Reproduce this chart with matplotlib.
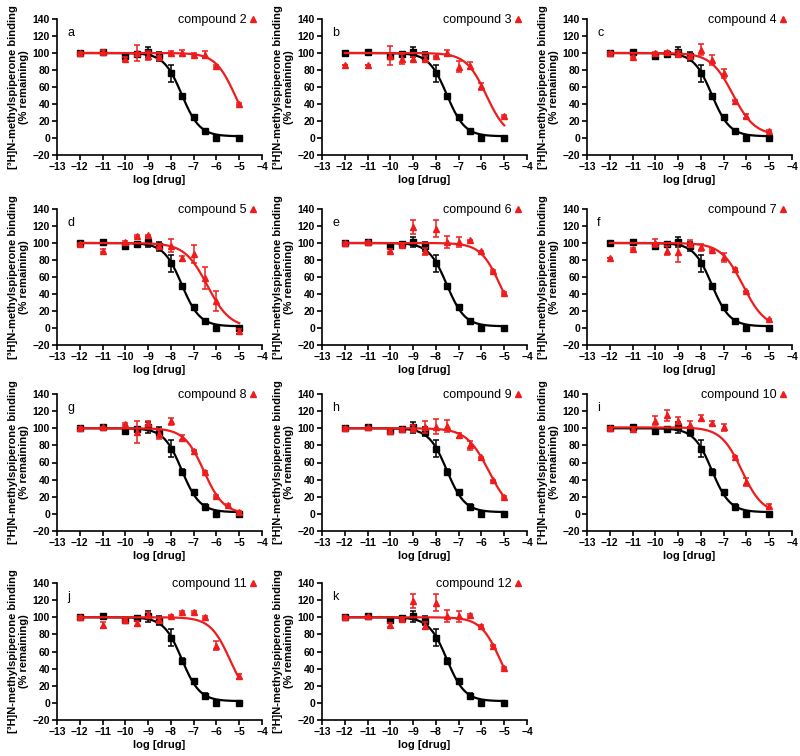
import numpy as np
import matplotlib
matplotlib.use('Agg')
import matplotlib.pyplot as plt

plt.rcParams['font.family'] = ['Liberation Sans', 'DejaVu Sans']

# ---------------- data ----------------
# reference compound (black squares), same in every panel
ref_x = [-12, -11, -10, -9.5, -9, -8.5, -8, -7.5, -7, -6.5, -6, -5]
ref_y = [100, 101, 97, 99, 101, 96, 76, 49, 25, 8, 0, 0]
ref_err = [1, 2, 2, 2, 6, 5, 10, 3, 2, 3, 1, 1]
ref_fit = [100, 2, -7.52, 1.1]          # top, bottom, logIC50, hill

letters = ['a', 'b', 'c', 'd', 'e', 'f', 'g', 'h', 'i', 'j', 'k']
names = ['compound 2', 'compound 3', 'compound 4', 'compound 5', 'compound 6',
         'compound 7', 'compound 8', 'compound 9', 'compound 10',
         'compound 11', 'compound 12']

x13 = [-12, -11, -10, -9.5, -9, -8.5, -8, -7.5, -7, -6.5, -6, -5]
x14 = [-12, -11, -10, -9.5, -9, -8.5, -8, -7.5, -7, -6.5, -6, -5.5, -5]

c2_y = [100, 101, 93, 100, 97, 95, 100, 100, 98, 98, 85, 40]
c2_e = [1, 2, 2, 9, 5, 2, 2, 4, 2, 4, 1, 1]
c3_y = [86, 86, 97, 93, 93, 93, 96, 100, 84, 85, 61, 26]
c3_e = [0, 0, 11, 6, 2, 3, 1, 3, 6, 4, 4, 1]
c4_y = [100, 95, 100, 101, 99, 97, 104, 92, 76, 44, 26, 8]
c4_e = [1, 1, 1, 1, 3, 2, 6, 6, 5, 1, 2, 1]
c5_y = [99, 91, 101, 108, 109, 97, 97, 82, 87, 59, 32, -4]
c5_e = [1, 2, 1, 1, 1, 2, 8, 3, 11, 13, 12, 3]
c6_y = [100, 101, 91, 98, 119, 90, 117, 101, 101, 103, 90, 67, 41]
c6_e = [1, 1, 2, 1, 8, 4, 10, 7, 6, 1, 1, 1, 1]
c7_y = [82, 93, 100, 91, 89, 99, 95, 92, 83, 70, 43, 10]
c7_e = [0, 1, 5, 5, 11, 4, 4, 1, 5, 1, 1, 1]
c8_y = [100, 101, 105, 96, 106, 93, 108, 89, 74, 49, 21, 10, 2]
c8_e = [2, 1, 1, 13, 2, 5, 4, 3, 1, 1, 1, 1, 1]
c9_y = [100, 101, 97, 99, 100, 101, 102, 103, 92, 80, 66, 39, 20]
c9_e = [1, 1, 1, 1, 4, 7, 9, 7, 3, 5, 1, 1, 1]
c10_y = [100, 99, 109, 115, 109, 104, 112, 106, 101, 67, 37, 9]
c10_e = [1, 3, 5, 6, 4, 4, 4, 2, 4, 1, 5, 3]
c11_y = [100, 91, 97, 93, 103, 97, 102, 106, 106, 100, 67, 31]
c11_e = [1, 3, 1, 3, 3, 2, 1, 1, 1, 1, 5, 3]
c12_y = [100, 101, 91, 98, 119, 90, 117, 101, 101, 103, 90, 67, 41]
c12_e = [1, 1, 2, 1, 8, 4, 10, 7, 6, 1, 1, 1, 1]

# fitted curves: top, bottom, logIC50, hill
c_fit = [
    [100, 0, -5.18, 1.0],
    [100, 0, -5.78, 0.97],
    [100, 3, -6.60, 0.9],
    [100, 0, -6.40, 0.87],
    [100, 0, -5.17, 1.0],
    [100, 0, -6.15, 0.9],
    [100, 0, -6.55, 1.0],
    [100, 0, -5.68, 0.89],
    [101, 0, -6.20, 0.95],
    [100, 0, -5.40, 1.0],
    [100, 0, -5.17, 1.0],
]

red_x = [x13, x13, x13, x13, x14, x13, x14, x14, x13, x13, x14]
red_y = [c2_y, c3_y, c4_y, c5_y, c6_y, c7_y, c8_y, c9_y, c10_y, c11_y, c12_y]
red_e = [c2_e, c3_e, c4_e, c5_e, c6_e, c7_e, c8_e, c9_e, c10_e, c11_e, c12_e]

RED = '#ee1c1c'


def curve(x, p):
    top, bot, c, h = p
    return bot + (top - bot) / (1 + 10 ** ((x - c) * h))


W, H = 800, 756
fig = plt.figure(figsize=(W / 100, H / 100), dpi=100)
lefts = [57, 322, 587]
tops = [19, 209, 394, 583]
bottoms = [155, 345, 531, 720]
aw = 205

xs = np.linspace(-12, -5, 300)

for i in range(11):
    r, c = divmod(i, 3)
    l = lefts[c]
    t = tops[r]
    b = bottoms[r]
    ax = fig.add_axes([l / W, 1 - b / H, aw / W, (b - t) / H])

    # reference compound
    ax.plot(xs, curve(xs, ref_fit), color='black', lw=1.6, zorder=2)
    ax.errorbar(ref_x, ref_y, yerr=ref_err, fmt='s', color='black', ms=5,
                elinewidth=1.1, capsize=2.5, capthick=1.1, zorder=3)

    # test compound
    ax.plot(xs, curve(xs, c_fit[i]), color=RED, lw=1.6, zorder=4)
    ax.errorbar(red_x[i], red_y[i], yerr=red_e[i], fmt='^', color=RED, ms=4.5,
                elinewidth=1.1, capsize=2.5, capthick=1.1, zorder=5,
                label=names[i])

    ax.set_xlim(-13, -4)
    ax.set_ylim(-20, 140)
    ax.set_xticks(range(-13, -3))
    ax.set_yticks(range(-20, 141, 20))
    for s in ['top', 'right']:
        ax.spines[s].set_visible(False)
    for s in ['left', 'bottom']:
        ax.spines[s].set_linewidth(1.2)
    ax.tick_params(direction='out', length=3.5, width=1.2, labelsize=7.5, pad=1.5)
    for lab in ax.get_xticklabels() + ax.get_yticklabels():
        lab.set_fontweight('bold')
    ax.set_xlabel('log [drug]', fontsize=8, fontweight='bold', labelpad=2)
    ax.set_ylabel('[³H]N-methylspiperone binding\n(% remaining)', fontsize=8,
                  fontweight='bold', labelpad=2.5, linespacing=1.1)
    ax.text(0.05, 0.9, letters[i], transform=ax.transAxes, fontsize=9,
            ha='left', va='center')
    h, lab = ax.get_legend_handles_labels()
    ax.legend([h[0][0]], lab, loc='upper right', bbox_to_anchor=(0.975, 1.035),
              frameon=False, markerfirst=False, handlelength=0.6,
              handletextpad=0.2, borderaxespad=0, borderpad=0,
              fontsize=9, numpoints=1)

fig.savefig('out.png', dpi=100)
